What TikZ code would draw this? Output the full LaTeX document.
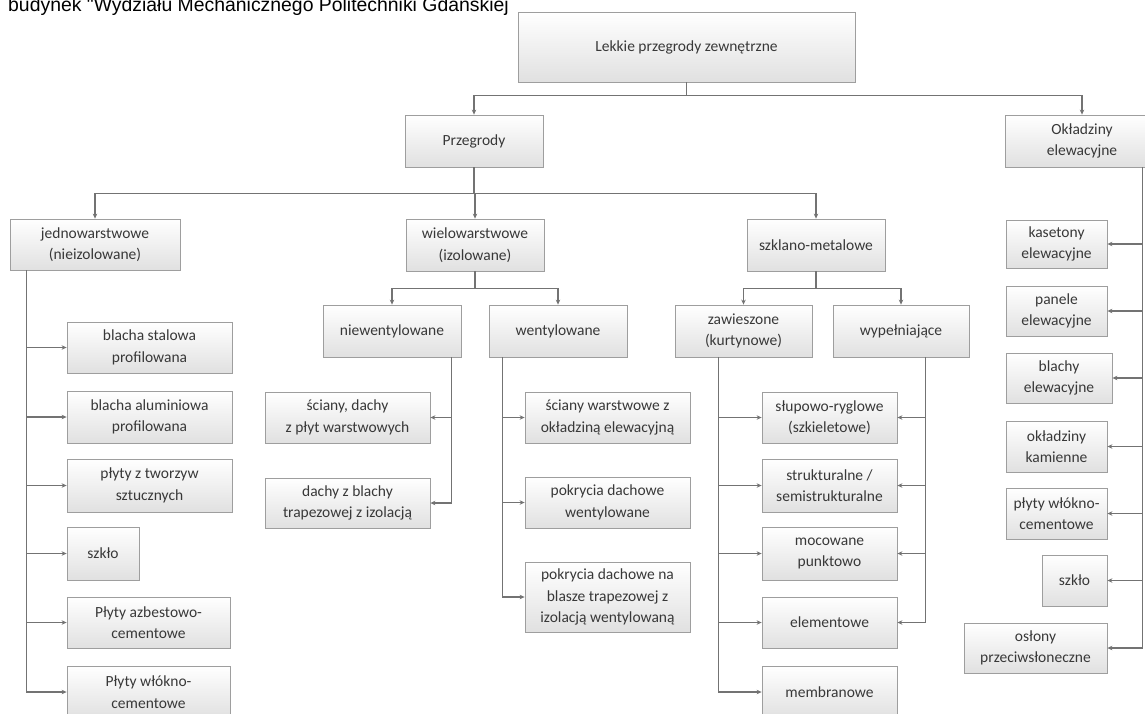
\documentclass[tikz,border=0pt]{standalone}
\usepackage{fontspec}
\setmainfont{Carlito}
\newfontfamily\titlefont{Liberation Sans}
\usetikzlibrary{arrows.meta,shadows}
\tikzset{
  box/.style={rectangle, draw=black!38, line width=0.8pt, top color=white, bottom color=black!12,
    align=center, inner sep=0pt, font=\fontsize{15.5}{21.5}\selectfont, text=black!78,
    drop shadow={shadow xshift=1.2pt, shadow yshift=-1.2pt, opacity=0.25, fill=black!40}},
  conn/.style={draw=black!55, line width=1.1pt, -{Stealth[length=5pt,width=4.5pt]}}
}
\newcommand{\bx}[6]{\node[box, minimum width={#4-#2}, minimum height={#5-#3}] (#1) at ({(#2+#4)/2},{(#3+#5)/2}) {#6};}
\begin{document}
\begin{tikzpicture}[x=1pt,y=-1pt]
\useasboundingbox (0,0) rectangle (1145,713);
\fill[white] (0,0) rectangle (1145,713);
\node[anchor=base west, inner sep=0pt, font=\titlefont\fontsize{19.4}{23}\selectfont] (title) at (8,11.5) {budynek "Wydziału Mechanicznego Politechniki Gdańskiej};
% boxes
\bx{root}{518}{12}{855}{82}{Lekkie przegrody zewnętrzne}
\bx{przeg}{405}{115}{543}{167}{Przegrody}
\bx{okl}{1005}{115}{1159}{167}{Okładziny\\elewacyjne}
\bx{jedn}{10}{219}{180}{270}{jednowarstwowe\\(nieizolowane)}
\bx{wielo}{406}{219}{544}{271}{wielowarstwowe\\(izolowane)}
\bx{szkl}{747}{219}{885}{271}{szklano-metalowe}
\bx{niew}{323}{305}{461}{357}{niewentylowane}
\bx{went}{489}{305}{627}{357}{wentylowane}
\bx{zaw}{675}{305}{812}{357}{zawieszone\\(kurtynowe)}
\bx{wyp}{833}{305}{969}{357}{wypełniające}
\bx{j1}{67}{322}{232}{373}{blacha stalowa\\profilowana}
\bx{j2}{67}{391}{232}{443}{blacha aluminiowa\\profilowana}
\bx{j3}{67}{459}{232}{512}{płyty z tworzyw\\sztucznych}
\bx{j4}{67}{527}{139}{580}{szkło}
\bx{j5}{67}{597}{230}{648}{Płyty azbestowo-\\cementowe}
\bx{j6}{67}{666}{230}{718}{Płyty włókno-\\cementowe}
\bx{n1}{265}{392}{430}{443}{ściany, dachy\\z płyt warstwowych}
\bx{n2}{265}{478}{430}{528}{dachy z blachy\\trapezowej z izolacją}
\bx{w1}{525}{392}{690}{443}{ściany warstwowe z\\okładziną elewacyjną}
\bx{w2}{525}{477}{690}{528}{pokrycia dachowe\\wentylowane}
\bx{w3}{525}{562}{690}{632}{pokrycia dachowe na\\blasze trapezowej z\\izolacją wentylowaną}
\bx{s1}{762}{392}{897}{443}{słupowo-ryglowe\\(szkieletowe)}
\bx{s2}{762}{459}{897}{512}{strukturalne /\\semistrukturalne}
\bx{s3}{762}{527}{897}{580}{mocowane\\punktowo}
\bx{s4}{762}{597}{897}{648}{elementowe}
\bx{s5}{762}{666}{897}{718}{membranowe}
\bx{o1}{1006}{220}{1107}{268}{kasetony\\elewacyjne}
\bx{o2}{1006}{286}{1107}{336}{panele\\elewacyjne}
\bx{o3}{1006}{353}{1112}{403}{blachy\\elewacyjne}
\bx{o4}{1006}{421}{1107}{472}{okładziny\\kamienne}
\bx{o5}{1006}{488}{1107}{539}{płyty włókno-\\cementowe}
\bx{o6}{1042}{555}{1107}{606}{szkło}
\bx{o7}{964}{623}{1107}{673}{osłony\\przeciwsłoneczne}
% connectors
\draw[conn] (root.south) -- ++(0,13) -| (przeg.north);
\draw[conn] (root.south) -- ++(0,13) -| (okl.north);
\draw[conn] (przeg.south) -- ++(0,26) -| (jedn.north);
\draw[conn] (przeg.south) -- ++(0,26) -| (wielo.north);
\draw[conn] (przeg.south) -- ++(0,26) -| (szkl.north);
\draw[conn] (wielo.south) -- ++(0,17) -| (niew.north);
\draw[conn] (wielo.south) -- ++(0,17) -| (went.north);
\draw[conn] (szkl.south) -- ++(0,17) -| (zaw.north);
\draw[conn] (szkl.south) -- ++(0,17) -| (wyp.north);
\foreach \t in {j1,j2,j3,j4,j5,j6} \draw[conn] ([xshift=17pt]jedn.south west) |- (\t.west);
\foreach \t in {n1,n2} \draw[conn] ([xshift=129pt]niew.south west) |- (\t.east);
\foreach \t in {w1,w2,w3} \draw[conn] ([xshift=14pt]went.south west) |- (\t.west);
\foreach \t in {s1,s2,s3,s4,s5} \draw[conn] ([xshift=44pt]zaw.south west) |- (\t.west);
\foreach \t in {s1,s2,s3,s4} \draw[conn] ([xshift=93pt]wyp.south west) |- (\t.east);
\foreach \t in {o1,o2,o3,o4,o5,o6,o7} \draw[conn] ([xshift=138pt]okl.south west) |- (\t.east);
\end{tikzpicture}
\end{document}
